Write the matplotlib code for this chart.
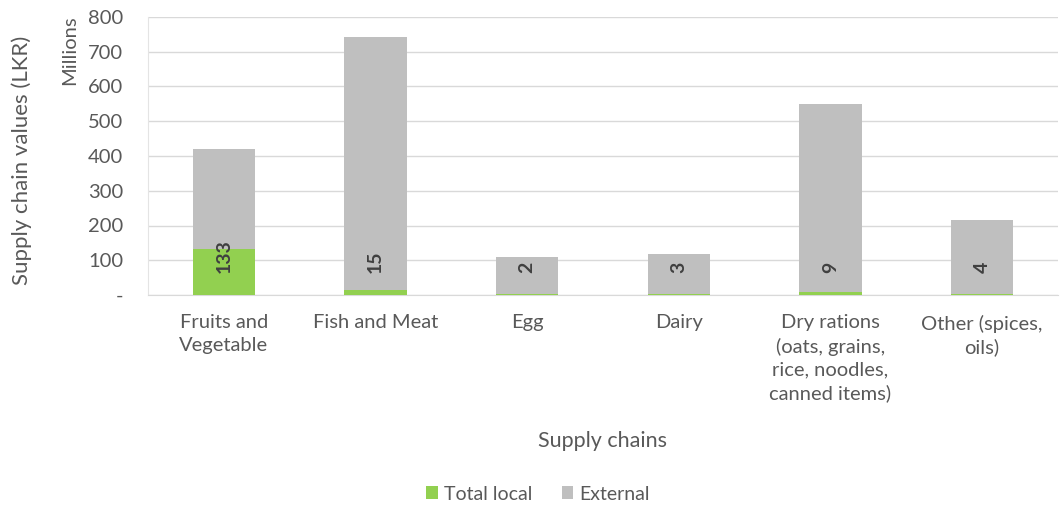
import numpy as np
from matplotlib import pyplot as plt

categories = ['Fruits and\nVegetable', 'Fish and Meat', 'Egg', 'Dairy',
              'Dry rations\n(oats, grains,\nrice, noodles,\ncanned items)',
              'Other (spices,\noils)']
local = [133, 15, 2, 3, 9, 4]
external = [287, 728, 107, 115, 541, 212]
yticks = [0, 100, 200, 300, 400, 500, 600, 700, 800]
ytick_labels = ['-', '100', '200', '300', '400', '500', '600', '700', '800']

plt.rcParams['font.family'] = ['Lato', 'DejaVu Sans']
txt = '#595959'

fig = plt.figure(dpi=100, figsize=(10.6, 5.08))
ax = fig.add_axes([148/1060, 1 - 295/508, 910/1060, 278/508])

x = np.arange(len(categories))
ax.bar(x, local, width=0.41, color='#92d050', label='Total local', zorder=3)
ax.bar(x, external, width=0.41, bottom=local, color='#bfbfbf', label='External', zorder=3)

for xi, v in zip(x, local):
    ax.annotate(str(v), (xi, 0), xytext=(0, 16), textcoords='offset points',
                rotation=90, ha='center', va='bottom', fontsize=14,
                fontweight='bold', color='#404040', zorder=4)

ax.set_xlim(-0.5, len(categories) - 0.5)
ax.set_ylim(0, 800)
ax.set_yticks(yticks)
ax.set_yticklabels(ytick_labels)
ax.set_xticks(x)
ax.set_xticklabels(categories, linespacing=1.4)
ax.tick_params(axis='both', length=0, labelsize=14.5, colors=txt)
ax.tick_params(axis='y', pad=18)
ax.tick_params(axis='x', pad=14)
ax.grid(axis='y', color='#d9d9d9', linewidth=1, zorder=0)
for s in ['top', 'right']:
    ax.spines[s].set_visible(False)
ax.spines['left'].set_color('#e4e4e4')
ax.spines['bottom'].set_color('#d9d9d9')

ax.set_xlabel('Supply chains', fontsize=15.5, color=txt)
ax.xaxis.set_label_coords(603/910 - 148/910, -0.49)
fig.text(22/1060, 1 - 160/508, 'Supply chain values (LKR)', rotation=90,
         ha='center', va='center', fontsize=16, color=txt)
fig.text(70/1060, 1 - 50/508, 'Millions', rotation=90, ha='center',
         va='center', fontsize=14.5, color=txt)

ax.legend(loc='center', bbox_to_anchor=(538/1060, 1 - 494/508),
          bbox_transform=fig.transFigure, ncol=2, frameon=False, fontsize=14,
          handlelength=0.6, handleheight=0.6, handletextpad=0.3,
          columnspacing=1.5, labelcolor=txt)

plt.savefig('out.png')
